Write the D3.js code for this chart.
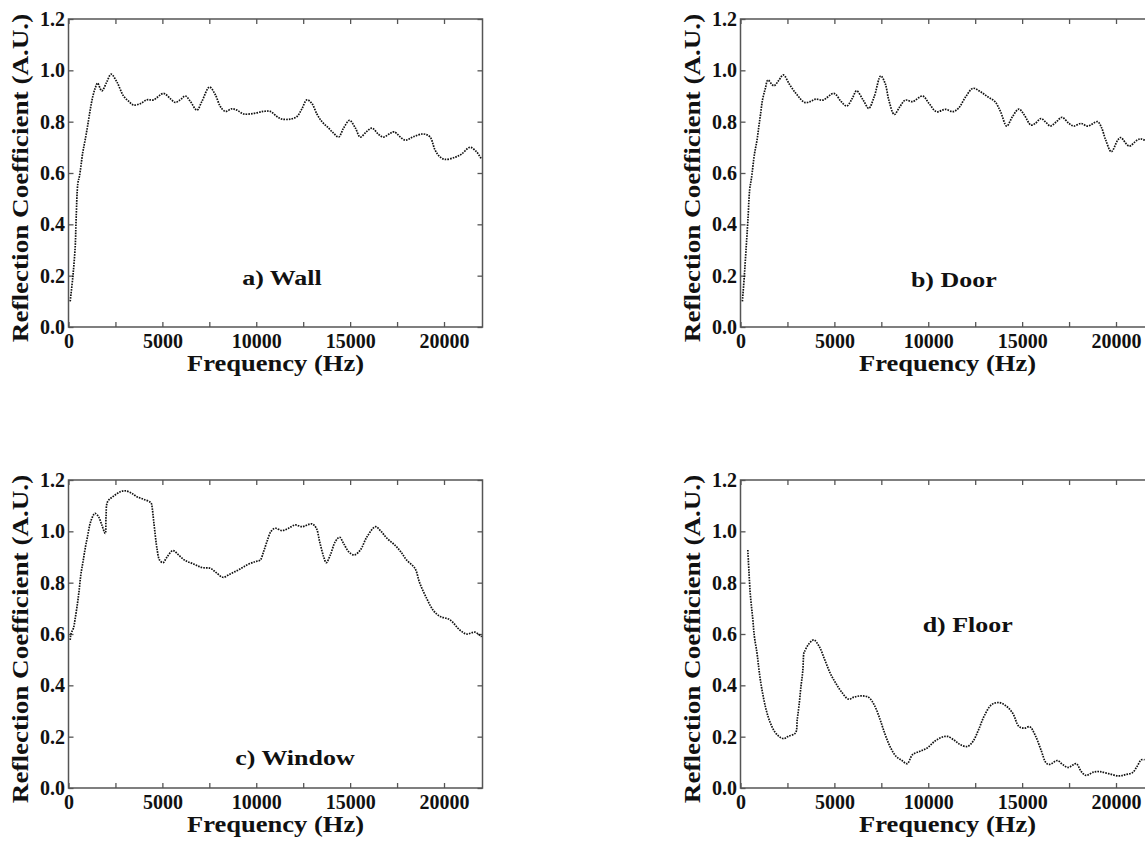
<!DOCTYPE html>
<html>
<head>
<meta charset="utf-8">
<script src="https://cdn.jsdelivr.net/npm/d3@7"></script>
<style>
body { margin: 0; background: #fff; }
svg { display: block; }
text { font-family: "Liberation Serif", "Times New Roman", serif; font-weight: bold; fill: #111; }
</style>
</head>
<body>
<div id="chart"></div>
<script>
// values: frequency (Hz) and reflection coefficient
const wallFreq = [90, 230, 355, 410, 500, 590, 760, 890, 1010, 1120, 1190, 1300, 1420, 1545, 1775, 2040, 2270, 2575, 2930, 3200, 3460, 3820, 4170, 4530, 5060, 5420, 5680, 5950, 6220, 6480, 6840, 7100, 7510, 7820, 8080, 8350, 8700, 8970, 9330, 9860, 10390, 10750, 11100, 11370, 11810, 12170, 12430, 12700, 12970, 13230, 13500, 13850, 14120, 14390, 14650, 14970, 15280, 15540, 15860, 16160, 16520, 16780, 17140, 17350, 17920, 18360, 18890, 19250, 19520, 19780, 20050, 20580, 20940, 21380, 21730, 22000];
const wallR = [0.10, 0.195, 0.31, 0.43, 0.56, 0.59, 0.68, 0.73, 0.78, 0.83, 0.86, 0.90, 0.93, 0.95, 0.92, 0.955, 0.985, 0.955, 0.90, 0.88, 0.865, 0.87, 0.885, 0.885, 0.91, 0.89, 0.875, 0.885, 0.90, 0.88, 0.845, 0.878, 0.935, 0.905, 0.86, 0.84, 0.85, 0.845, 0.83, 0.832, 0.84, 0.84, 0.82, 0.81, 0.81, 0.82, 0.85, 0.885, 0.87, 0.83, 0.80, 0.775, 0.755, 0.74, 0.775, 0.805, 0.775, 0.74, 0.76, 0.775, 0.75, 0.74, 0.755, 0.76, 0.728, 0.741, 0.752, 0.741, 0.69, 0.663, 0.653, 0.661, 0.674, 0.70, 0.683, 0.653];

const doorFreq = [100, 200, 293, 390, 490, 585, 740, 880, 975, 1070, 1170, 1325, 1460, 1775, 2050, 2280, 2630, 3020, 3415, 3705, 4000, 4390, 4975, 5365, 5655, 5950, 6180, 6535, 6830, 7120, 7470, 7705, 7900, 8190, 8485, 8780, 9165, 9695, 10045, 10435, 10920, 11310, 11605, 11995, 12385, 12775, 13165, 13555, 13850, 14180, 14490, 14825, 15115, 15465, 15700, 16000, 16285, 16500, 16830, 17120, 17495, 17750, 18140, 18490, 19015, 19210, 19445, 19750, 20090, 20250, 20700, 21100, 21300, 21520, 21800];
const doorR = [0.10, 0.195, 0.30, 0.41, 0.536, 0.58, 0.672, 0.728, 0.78, 0.83, 0.884, 0.93, 0.962, 0.94, 0.962, 0.982, 0.943, 0.904, 0.875, 0.878, 0.888, 0.884, 0.91, 0.878, 0.861, 0.89, 0.92, 0.884, 0.852, 0.897, 0.978, 0.949, 0.884, 0.828, 0.858, 0.884, 0.878, 0.90, 0.871, 0.839, 0.848, 0.839, 0.852, 0.897, 0.93, 0.917, 0.897, 0.878, 0.839, 0.783, 0.82, 0.849, 0.826, 0.787, 0.793, 0.812, 0.796, 0.783, 0.80, 0.817, 0.793, 0.783, 0.793, 0.783, 0.80, 0.78, 0.73, 0.683, 0.728, 0.738, 0.705, 0.727, 0.733, 0.728, 0.72];

const windowFreq = [90, 140, 265, 355, 480, 570, 655, 765, 890, 1010, 1155, 1330, 1420, 1600, 1775, 1955, 2000, 2080, 2400, 2755, 3020, 3375, 3640, 4000, 4390, 4460, 4530, 4620, 4710, 4850, 5030, 5240, 5560, 5860, 6220, 6660, 7100, 7550, 7870, 8220, 8615, 9060, 9500, 9945, 10210, 10390, 10570, 10780, 11010, 11370, 11720, 12080, 12430, 12965, 13200, 13375, 13590, 13730, 13945, 14210, 14440, 14650, 14920, 15220, 15540, 15900, 16350, 16610, 16960, 17400, 17700, 18010, 18450, 18700, 19100, 19450, 19800, 20300, 20850, 21200, 21650, 22000];
const windowR = [0.577, 0.603, 0.623, 0.66, 0.72, 0.772, 0.83, 0.878, 0.934, 0.979, 1.031, 1.064, 1.07, 1.057, 1.025, 0.992, 1.057, 1.115, 1.137, 1.154, 1.158, 1.148, 1.135, 1.125, 1.111, 1.09, 1.044, 0.986, 0.934, 0.888, 0.878, 0.899, 0.925, 0.908, 0.886, 0.873, 0.859, 0.856, 0.839, 0.821, 0.834, 0.85, 0.869, 0.882, 0.888, 0.921, 0.96, 0.999, 1.012, 1.003, 1.012, 1.025, 1.018, 1.029, 1.012, 0.96, 0.901, 0.878, 0.908, 0.96, 0.977, 0.953, 0.921, 0.908, 0.927, 0.979, 1.018, 1.003, 0.973, 0.945, 0.92, 0.888, 0.856, 0.80, 0.735, 0.69, 0.668, 0.656, 0.615, 0.60, 0.607, 0.589];

const floorFreq = [390, 450, 525, 645, 740, 880, 975, 1070, 1210, 1365, 1560, 1815, 2050, 2300, 2535, 2925, 3020, 3120, 3220, 3315, 3375, 3415, 3610, 3900, 4195, 4485, 4780, 5070, 5365, 5755, 6045, 6435, 6830, 7120, 7410, 7705, 8000, 8290, 8580, 8875, 9165, 9555, 9945, 10340, 10725, 11020, 11410, 11700, 12090, 12385, 12680, 12970, 13360, 13750, 14140, 14510, 14825, 15115, 15400, 15700, 16000, 16285, 16480, 16880, 17165, 17450, 17880, 18140, 18400, 18800, 19115, 19600, 20150, 20500, 20880, 21120, 21350, 21520];
const floorR = [0.927, 0.843, 0.752, 0.665, 0.59, 0.525, 0.467, 0.415, 0.357, 0.305, 0.259, 0.22, 0.201, 0.192, 0.201, 0.214, 0.266, 0.324, 0.396, 0.454, 0.525, 0.532, 0.558, 0.577, 0.551, 0.50, 0.447, 0.409, 0.376, 0.346, 0.354, 0.359, 0.353, 0.324, 0.272, 0.208, 0.156, 0.123, 0.108, 0.095, 0.13, 0.143, 0.156, 0.182, 0.198, 0.201, 0.185, 0.169, 0.162, 0.182, 0.227, 0.279, 0.324, 0.333, 0.32, 0.29, 0.24, 0.233, 0.239, 0.205, 0.149, 0.097, 0.092, 0.107, 0.091, 0.08, 0.095, 0.065, 0.049, 0.062, 0.064, 0.056, 0.047, 0.052, 0.06, 0.084, 0.11, 0.11];

const xTickValues = [0, 2500, 5000, 7500, 10000, 12500, 15000, 17500, 20000];
const yTickValues = [0, 0.2, 0.4, 0.6, 0.8, 1.0, 1.2];
const panelLabels = ["a) Wall", "b) Door", "c) Window", "d) Floor"];

const W = 1145, H = 841;
const plotW = 414, plotH = 308;
// the source figure is stretched sideways, so titles are widened a little
const stretch = 1.18;

const svg = d3.select("#chart").append("svg")
    .attr("width", W)
    .attr("height", H);

svg.append("rect").attr("width", W).attr("height", H).attr("fill", "#fff");

const panels = [
    { left: 68.5, top: 19, freq: wallFreq, vals: wallR, label: panelLabels[0], lx: 11370, ly: 0.164 },
    { left: 740.5, top: 19, freq: doorFreq, vals: doorR, label: panelLabels[1], lx: 11360, ly: 0.156 },
    { left: 68.5, top: 480, freq: windowFreq, vals: windowR, label: panelLabels[2], lx: 12060, ly: 0.09 },
    { left: 740.5, top: 480, freq: floorFreq, vals: floorR, label: panelLabels[3], lx: 12100, ly: 0.608 }
];

function drawPanel(p) {
    const x = d3.scaleLinear().domain([0, 22050]).range([0, plotW]);
    const y = d3.scaleLinear().domain([0, 1.2]).range([plotH, 0]);

    const g = svg.append("g").attr("transform", `translate(${p.left},${p.top})`);

    // bottom axis, labels only every 5000
    const bottom = g.append("g")
        .attr("transform", `translate(0,${plotH})`)
        .call(d3.axisBottom(x).tickValues(xTickValues).tickSizeInner(-5).tickSizeOuter(0).tickPadding(7)
            .tickFormat(d => d % 5000 === 0 ? d3.format("d")(d) : ""));

    const topAx = g.append("g")
        .call(d3.axisTop(x).tickValues(xTickValues).tickSizeInner(-5).tickSizeOuter(0).tickFormat(""));

    const left = g.append("g")
        .call(d3.axisLeft(y).tickValues(yTickValues).tickSizeInner(-5).tickSizeOuter(0).tickPadding(3.5)
            .tickFormat(d3.format(".1f")));

    const right = g.append("g")
        .attr("transform", `translate(${plotW},0)`)
        .call(d3.axisRight(y).tickValues(yTickValues).tickSizeInner(-5).tickSizeOuter(0).tickFormat(""));

    [bottom, topAx, left, right].forEach(a => {
        a.select(".domain").remove();
        a.selectAll("line").attr("stroke", "#555").attr("stroke-width", 1.3);
        a.selectAll("text").attr("font-size", 20).attr("fill", "#111")
            .attr("font-family", "'Liberation Serif', 'Times New Roman', serif").attr("font-weight", "bold");
    });

    g.append("rect")
        .attr("width", plotW)
        .attr("height", plotH)
        .attr("fill", "none")
        .attr("stroke", "#555")
        .attr("stroke-width", 1.5);

    const pts = p.freq.map((f, i) => [f, p.vals[i]]);
    const line = d3.line()
        .x(d => x(d[0]))
        .y(d => y(d[1]))
        .curve(d3.curveCatmullRom);

    g.append("path")
        .datum(pts)
        .attr("d", line)
        .attr("fill", "none")
        .attr("stroke", "#111")
        .attr("stroke-width", 1.7)
        .attr("stroke-dasharray", "1.6 1.1");

    g.append("text")
        .attr("transform", `translate(${x(p.lx)},${y(p.ly)}) scale(${stretch},1)`)
        .attr("text-anchor", "middle")
        .attr("font-size", 22)
        .text(p.label);

    g.append("text")
        .attr("transform", `translate(${plotW / 2},${plotH + 44}) scale(${stretch},1)`)
        .attr("text-anchor", "middle")
        .attr("font-size", 22.5)
        .text("Frequency (Hz)");

    g.append("text")
        .attr("transform", `translate(-40.5,${plotH / 2 + 5}) rotate(-90) scale(${stretch},1)`)
        .attr("text-anchor", "middle")
        .attr("font-size", 23)
        .text("Reflection Coefficient (A.U.)");
}

panels.forEach(drawPanel);
</script>
</body>
</html>
